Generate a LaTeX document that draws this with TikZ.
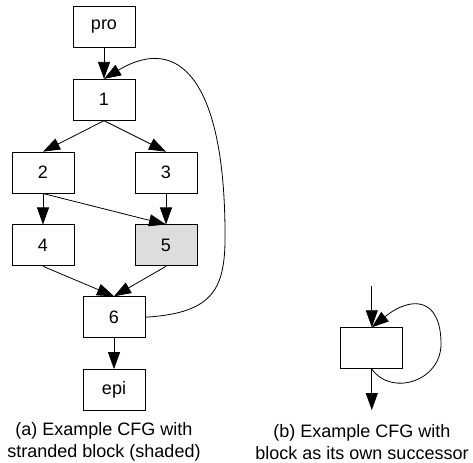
\documentclass[tikz,border=0pt]{standalone}
\usepackage{fontspec}
\setmainfont{Liberation Sans}
\usepackage{tikz}
\usepackage{xcolor}
\usetikzlibrary{positioning, arrows.meta}

\definecolor{stranded}{HTML}{DDDDDD}

\begin{document}
\begin{tikzpicture}[
    x=1bp, y=1bp,
    block/.style={rectangle, draw=black, line width=0.8bp, minimum width=62bp,
      minimum height=41bp, inner sep=0pt, font=\fontsize{18bp}{22bp}\selectfont},
    shaded/.style={block, fill=stranded},
    flow/.style={line width=0.8bp, -{Triangle[length=17bp, width=12bp]}},
    caption/.style={align=center, inner sep=0pt,
      font=\fontsize{18bp}{22bp}\selectfont}
    ]

    \useasboundingbox (0,0) rectangle (473,463);

    % Blocs (a)
    \node[block] (pro) at (104,436) {pro};
    \node[block, below=31bp of pro] (n1) {1};
    \node[block, below=31bp of n1, xshift=-61bp] (n2) {2};
    \node[block, below=31bp of n1, xshift=62bp] (n3) {3};
    \node[block, below=31bp of n2] (n4) {4};
    \node[shaded, below=31bp of n3] (n5) {5};
    \node[block, below=30bp of n4, xshift=71bp] (n6) {6};
    \node[block, below=31bp of n6] (epi) {epi};

    % Bloc (b)
    \node[block, right=195bp of n6, yshift=-31bp] (self) {};
    \coordinate[above=41bp of self] (selfin);
    \coordinate[below=41bp of self] (selfout);

    % Points de passage des boucles
    \coordinate (loopR) at (225,233);
    \coordinate (selfR) at (441,119);

    % Arcs (a)
    \draw[flow] (pro) -- (n1);
    \draw[flow] (n1.south) -- (n2.north);
    \draw[flow] (n1.south) -- (n3.north);
    \draw[flow] (n2.south) -- (n4.north);
    \draw[flow] (n2.south) -- (n5.north);
    \draw[flow] (n3.south) -- (n5.north);
    \draw[flow] (n4.south) -- (n6.north);
    \draw[flow] (n5.south) -- (n6.north);
    \draw[flow] (n6) -- (epi);
    \draw[flow] (n6.east) .. controls (215,150) and (226,175) .. (loopR)
      .. controls (224,380) and (180,430) .. (n1.north);

    % Arcs (b)
    \draw[flow] (selfin) -- (self);
    \draw[flow] (self) -- (selfout);
    \draw[flow] (self.south) .. controls (392,66) and (441,82) .. (selfR)
      .. controls (441,165) and (412,168) .. (self.north);

    % Legendes
    \node[caption] (capa) at (104,21) {(a) Example CFG with\\stranded block (shaded)};
    \node[caption] (capb) at (362,21) {(b) Example CFG with\\block as its own successor};

  \end{tikzpicture}
\end{document}
